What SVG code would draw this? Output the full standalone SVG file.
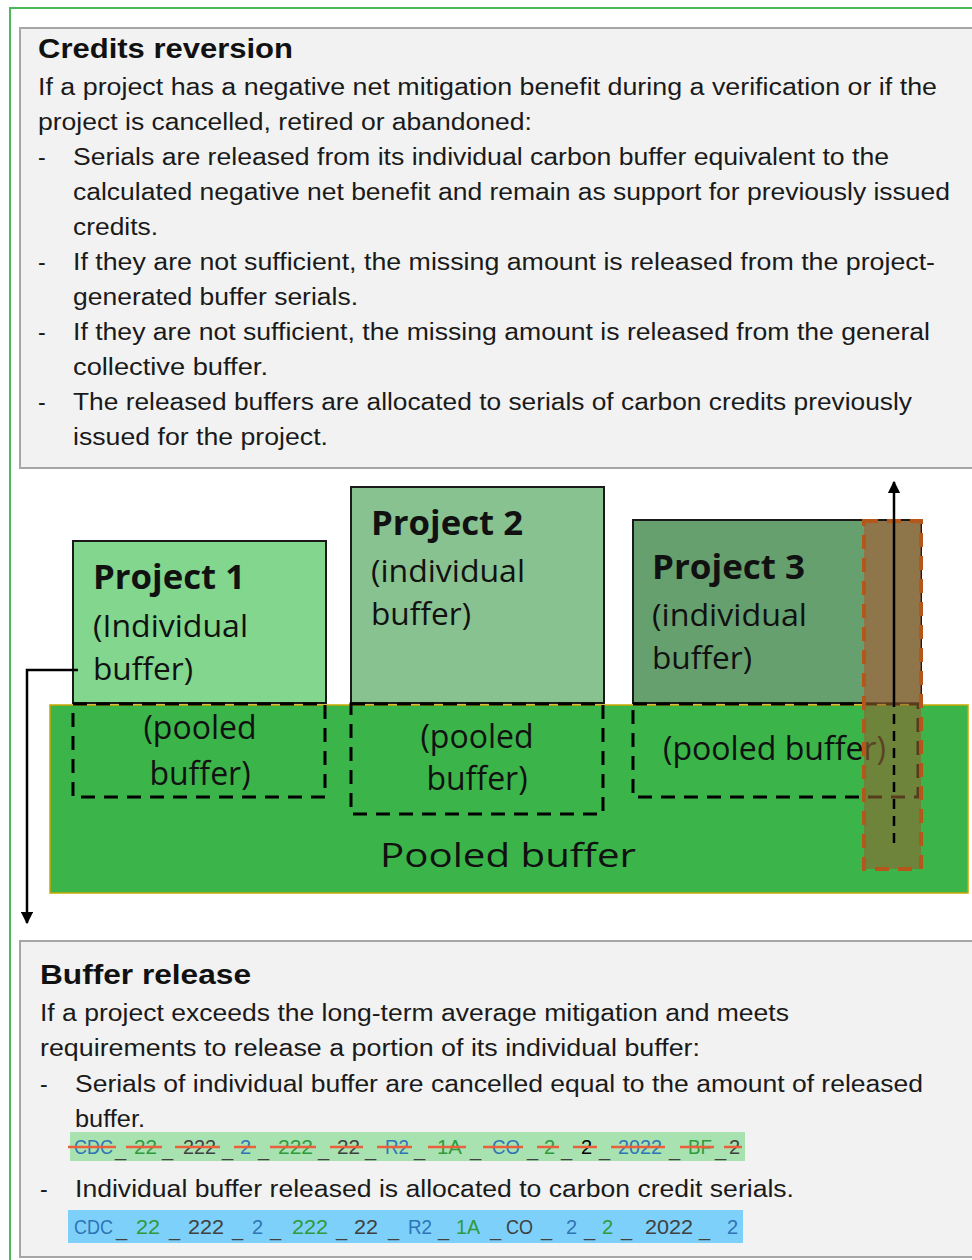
<svg xmlns="http://www.w3.org/2000/svg" width="972" height="1260" viewBox="0 0 972 1260">
<defs>
<style>
.body{font-family:"Liberation Sans",Arial,sans-serif;font-size:23px;fill:#1a1a1a}
.title{font-family:"Liberation Sans",Arial,sans-serif;font-size:28px;font-weight:bold;fill:#111}
.ptitle{font-family:"Open Sans","Noto Sans",sans-serif;font-size:34px;font-weight:bold;fill:#111}
.psub{font-family:"Open Sans","Noto Sans",sans-serif;font-size:31px;fill:#111}
.pool{font-family:"Open Sans","Noto Sans",sans-serif;font-size:32px;fill:#111}
.ser{font-family:"Liberation Sans",Arial,sans-serif;font-size:20px}
.b{fill:#2e75b6}.g{fill:#2f9a3c}.d{fill:#404040}.k{fill:#000}
.box{fill:#f2f2f2;stroke:#a6a6a6;stroke-width:2}
.proj{stroke:#1a1a1a;stroke-width:2}
.dash{fill:none;stroke:#000;stroke-width:3;stroke-dasharray:14 9}
.conn{fill:none;stroke:#000;stroke-width:2.5}
.strike{stroke:#e8603c;stroke-width:2.5}
</style>
<marker id="ah" viewBox="0 0 10 10" refX="9" refY="5" markerWidth="5" markerHeight="5" orient="auto-start-reverse">
<path d="M0,0 L10,5 L0,10 z" fill="#000"/>
</marker>
</defs>

<rect x="10" y="8" width="990" height="1280" fill="#fff" stroke="#4cb85c" stroke-width="2"/>

<g id="credits-reversion">
<rect class="box" x="20" y="28" width="970" height="440"/>
<text class="title" x="38" y="58" textLength="255" lengthAdjust="spacingAndGlyphs">Credits reversion</text>
<text class="body" x="38" y="95" textLength="899" lengthAdjust="spacingAndGlyphs">If a project has a negative net mitigation benefit during a verification or if the</text>
<text class="body" x="38" y="130" textLength="494" lengthAdjust="spacingAndGlyphs">project is cancelled, retired or abandoned:</text>
<text class="body" x="38" y="165">-</text>
<text class="body" x="73" y="165" textLength="816" lengthAdjust="spacingAndGlyphs">Serials are released from its individual carbon buffer equivalent to the</text>
<text class="body" x="73" y="200" textLength="877" lengthAdjust="spacingAndGlyphs">calculated negative net benefit and remain as support for previously issued</text>
<text class="body" x="73" y="235" textLength="85" lengthAdjust="spacingAndGlyphs">credits.</text>
<text class="body" x="38" y="270">-</text>
<text class="body" x="73" y="270" textLength="862" lengthAdjust="spacingAndGlyphs">If they are not sufficient, the missing amount is released from the project-</text>
<text class="body" x="73" y="305" textLength="285" lengthAdjust="spacingAndGlyphs">generated buffer serials.</text>
<text class="body" x="38" y="340">-</text>
<text class="body" x="73" y="340" textLength="857" lengthAdjust="spacingAndGlyphs">If they are not sufficient, the missing amount is released from the general</text>
<text class="body" x="73" y="375" textLength="195" lengthAdjust="spacingAndGlyphs">collective buffer.</text>
<text class="body" x="38" y="410">-</text>
<text class="body" x="73" y="410" textLength="839" lengthAdjust="spacingAndGlyphs">The released buffers are allocated to serials of carbon credits previously</text>
<text class="body" x="73" y="445" textLength="255" lengthAdjust="spacingAndGlyphs">issued for the project.</text>
</g>

<g id="pooled-buffer">
<rect x="50" y="705" width="918" height="188" fill="#3bb54a" stroke="#c8a800" stroke-width="1.5"/>
<text class="pool" x="380" y="867" font-size="41" textLength="256" lengthAdjust="spacingAndGlyphs">Pooled buffer</text>
</g>

<g id="project-1">
<rect class="proj" x="73" y="541" width="253" height="162" fill="#82d68e"/>
<text class="ptitle" x="93" y="589" textLength="152" lengthAdjust="spacingAndGlyphs">Project 1</text>
<text class="psub" x="93" y="637" textLength="155" lengthAdjust="spacingAndGlyphs">(Individual</text>
<text class="psub" x="93" y="680" textLength="100" lengthAdjust="spacingAndGlyphs">buffer)</text>
</g>

<g id="project-2">
<rect class="proj" x="351" y="487" width="253" height="216" fill="#88c290"/>
<text class="ptitle" x="371" y="535" textLength="152" lengthAdjust="spacingAndGlyphs">Project 2</text>
<text class="psub" x="371" y="582" textLength="154" lengthAdjust="spacingAndGlyphs">(individual</text>
<text class="psub" x="371" y="625" textLength="100" lengthAdjust="spacingAndGlyphs">buffer)</text>
</g>

<g id="project-3">
<rect class="proj" x="633" y="520" width="288" height="183" fill="#66a06e"/>
<text class="ptitle" x="652" y="579" textLength="153" lengthAdjust="spacingAndGlyphs">Project 3</text>
<text class="psub" x="652" y="626" textLength="155" lengthAdjust="spacingAndGlyphs">(individual</text>
<text class="psub" x="652" y="669" textLength="100" lengthAdjust="spacingAndGlyphs">buffer)</text>
</g>

<g id="pooled-1">
<rect class="dash" x="73" y="704" width="252" height="93"/>
<text class="pool" x="200" y="739" text-anchor="middle">(pooled</text>
<text class="pool" x="200" y="785" text-anchor="middle">buffer)</text>
</g>
<g id="pooled-2">
<rect class="dash" x="351" y="704" width="252" height="110"/>
<text class="pool" x="477" y="748" text-anchor="middle">(pooled</text>
<text class="pool" x="477" y="790" text-anchor="middle">buffer)</text>
</g>
<g id="pooled-3">
<rect class="dash" x="633" y="704" width="285" height="93"/>
<text class="pool" x="663" y="760" textLength="223" lengthAdjust="spacingAndGlyphs">(pooled buffer)</text>
</g>

<g id="released-column">
<rect x="864" y="521" width="57" height="182" fill="#a0643a" opacity="0.7"/>
<rect x="864" y="703" width="57" height="166" fill="#8f6430" opacity="0.6"/>
<rect x="864" y="521" width="57" height="348" fill="none" stroke="#b5561b" stroke-width="4" stroke-dasharray="14 9"/>
</g>

<g id="connectors">
<path class="conn" d="M894,843 L894,704" stroke-dasharray="10 7"/>
<path class="conn" d="M894,704 L894,482" marker-end="url(#ah)"/>
<path class="conn" d="M78,670 L27,670 L27,923" marker-end="url(#ah)"/>
</g>

<g id="buffer-release">
<rect class="box" x="20" y="941" width="970" height="316"/>
<text class="title" x="40" y="984" textLength="211" lengthAdjust="spacingAndGlyphs">Buffer release</text>
<text class="body" x="40" y="1021" textLength="749" lengthAdjust="spacingAndGlyphs">If a project exceeds the long-term average mitigation and meets</text>
<text class="body" x="40" y="1056" textLength="660" lengthAdjust="spacingAndGlyphs">requirements to release a portion of its individual buffer:</text>
<text class="body" x="40" y="1092">-</text>
<text class="body" x="75" y="1092" textLength="848" lengthAdjust="spacingAndGlyphs">Serials of individual buffer are cancelled equal to the amount of released</text>
<text class="body" x="75" y="1127" textLength="70" lengthAdjust="spacingAndGlyphs">buffer.</text>
<text class="body" x="40" y="1197">-</text>
<text class="body" x="75" y="1197" textLength="719" lengthAdjust="spacingAndGlyphs">Individual buffer released is allocated to carbon credit serials.</text>
</g>

<g id="serial-cancelled">
<rect x="70" y="1132" width="675" height="29" fill="#a8e2b0"/>
<g class="ser">
<text class="b" x="74" y="1154" textLength="39" lengthAdjust="spacingAndGlyphs">CDC</text>
<text class="d" x="115" y="1156">_</text>
<text class="g" x="134" y="1154" textLength="23" lengthAdjust="spacingAndGlyphs">22</text>
<text class="d" x="162" y="1156">_</text>
<text class="d" x="183" y="1154" textLength="33" lengthAdjust="spacingAndGlyphs">222</text>
<text class="d" x="222" y="1156">_</text>
<text class="b" x="240" y="1154">2</text>
<text class="d" x="258" y="1156">_</text>
<text class="g" x="278" y="1154" textLength="35" lengthAdjust="spacingAndGlyphs">222</text>
<text class="d" x="318" y="1156">_</text>
<text class="d" x="337" y="1154" textLength="23" lengthAdjust="spacingAndGlyphs">22</text>
<text class="d" x="365" y="1156">_</text>
<text class="b" x="385" y="1154" textLength="24" lengthAdjust="spacingAndGlyphs">R2</text>
<text class="d" x="414" y="1156">_</text>
<text class="g" x="437" y="1154" textLength="25" lengthAdjust="spacingAndGlyphs">1A</text>
<text class="d" x="470" y="1156">_</text>
<text class="b" x="492" y="1154" textLength="28" lengthAdjust="spacingAndGlyphs">CO</text>
<text class="d" x="527" y="1156">_</text>
<text class="g" x="544" y="1154">2</text>
<text class="d" x="561" y="1156">_</text>
<text class="k" x="581" y="1154">2</text>
<text class="d" x="599" y="1156">_</text>
<text class="b" x="618" y="1154" textLength="44" lengthAdjust="spacingAndGlyphs">2022</text>
<text class="d" x="669" y="1156">_</text>
<text class="g" x="688" y="1154" textLength="24" lengthAdjust="spacingAndGlyphs">BF</text>
<text class="d" x="715" y="1156">_</text>
<text class="d" x="729" y="1154">2</text>
</g>
<g class="strike">
<line x1="68" y1="1147" x2="116" y2="1147"/>
<line x1="126" y1="1147" x2="162" y2="1147"/>
<line x1="175" y1="1147" x2="220" y2="1147"/>
<line x1="234" y1="1147" x2="256" y2="1147"/>
<line x1="270" y1="1147" x2="316" y2="1147"/>
<line x1="330" y1="1147" x2="363" y2="1147"/>
<line x1="377" y1="1147" x2="412" y2="1147"/>
<line x1="428" y1="1147" x2="466" y2="1147"/>
<line x1="483" y1="1147" x2="523" y2="1147"/>
<line x1="537" y1="1147" x2="559" y2="1147"/>
<line x1="573" y1="1147" x2="597" y2="1147"/>
<line x1="611" y1="1147" x2="665" y2="1147"/>
<line x1="680" y1="1147" x2="714" y2="1147"/>
<line x1="724" y1="1147" x2="742" y2="1147"/>
</g>
</g>

<g id="serial-allocated">
<rect x="68" y="1210" width="675" height="33" fill="#7dd0f9"/>
<g class="ser">
<text class="b" x="74" y="1234" textLength="39" lengthAdjust="spacingAndGlyphs">CDC</text>
<text class="d" x="116" y="1236">_</text>
<text class="g" x="136" y="1234" textLength="24" lengthAdjust="spacingAndGlyphs">22</text>
<text class="d" x="169" y="1236">_</text>
<text class="d" x="188" y="1234" textLength="36" lengthAdjust="spacingAndGlyphs">222</text>
<text class="d" x="232" y="1236">_</text>
<text class="b" x="252" y="1234">2</text>
<text class="d" x="270" y="1236">_</text>
<text class="g" x="292" y="1234" textLength="36" lengthAdjust="spacingAndGlyphs">222</text>
<text class="d" x="336" y="1236">_</text>
<text class="d" x="354" y="1234" textLength="24" lengthAdjust="spacingAndGlyphs">22</text>
<text class="d" x="388" y="1236">_</text>
<text class="b" x="408" y="1234" textLength="24" lengthAdjust="spacingAndGlyphs">R2</text>
<text class="d" x="438" y="1236">_</text>
<text class="g" x="456" y="1234" textLength="24" lengthAdjust="spacingAndGlyphs">1A</text>
<text class="d" x="490" y="1236">_</text>
<text class="d" x="506" y="1234" textLength="27" lengthAdjust="spacingAndGlyphs">CO</text>
<text class="d" x="541" y="1236">_</text>
<text class="b" x="566" y="1234">2</text>
<text class="d" x="584" y="1236">_</text>
<text class="g" x="602" y="1234">2</text>
<text class="d" x="621" y="1236">_</text>
<text class="d" x="645" y="1234" textLength="48" lengthAdjust="spacingAndGlyphs">2022</text>
<text class="d" x="699" y="1236">_</text>
<text class="b" x="727" y="1234">2</text>
</g>
</g>
</svg>
